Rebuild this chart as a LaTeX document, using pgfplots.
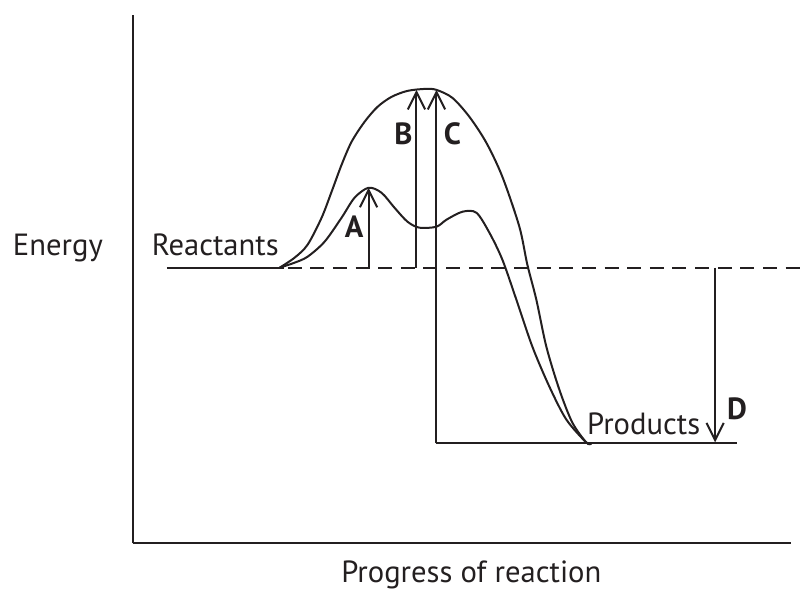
\documentclass[border=0pt]{standalone}
\usepackage{pgfplots}
\pgfplotsset{compat=1.18}
\usepackage{fontspec}
\setmainfont{PT Sans}
\usetikzlibrary{arrows.meta}
\definecolor{ink}{RGB}{35,31,32}
\tikzset{
  ln/.style={line width=1.5pt, draw=ink, mark=none},
  tip/.style={ln, -{Straight Barb[length=13pt,width=13pt,line width=1.5pt]}},
  lab/.style={anchor=base, inner sep=0pt, font=\fontsize{23}{27}\selectfont, text=ink},
  blab/.style={anchor=base, inner sep=0pt, font=\fontsize{23}{27}\selectfont\bfseries, text=ink},
}
\begin{document}
\begin{tikzpicture}
\begin{axis}[
  x=0.75pt, y=0.75pt,
  xmin=133, xmax=792, ymin=45, ymax=574,
  axis lines*=left,
  axis line style={line width=1.6pt, ink},
  ticks=none,
  clip=false,
]
\path (axis cs:0,0) rectangle (axis cs:802,589);
% uncatalysed (upper) curve
\addplot[ln, smooth] coordinates {
(280,321)(295,331)(308,344)(322,371)(332,397)(342,424)(352,447)(365,467)
(378,482)(392,492)(408,498)(426,500)(437,499)(453,491)(470,472)(487,446)
(503,412)(520,362)(528,324)(537,289)(547,242)(560,199)(573,166)(587,146)(592,145)};
% catalysed (lower) curve
\addplot[ln, smooth] coordinates {
(280,321)(295,326)(308,332)(325,347)(342,371)(355,391)(369,401)(382,396)
(395,381)(408,367)(420,361)(437,362)(447,369)(463,377)(477,376)(490,356)
(503,329)(517,289)(533,242)(550,202)(567,169)(587,146)(592,145)};
% reactant level
\addplot[ln] coordinates {(167,321)(284,321)};
\addplot[ln, dash pattern=on 10.5pt off 6.5pt] coordinates {(288,321)(802,321)};
% product level
\addplot[ln] coordinates {(437,145)(738,145)};
% arrows
\addplot[tip] coordinates {(369,321)(369,401)};
\addplot[tip] coordinates {(417,321)(417,499)};
\addplot[tip] coordinates {(437,145)(437,499)};
\addplot[tip] coordinates {(716,321)(716,146)};
% labels
\node[lab] at (axis cs:58,333) {Energy};
\node[lab] at (axis cs:215.5,333) {Reactants};
\node[lab] at (axis cs:644.5,154) {Products};
\node[lab] at (axis cs:472,6) {Progress of reaction};
\node[blab] at (axis cs:354.5,351) {A};
\node[blab] at (axis cs:404,444) {B};
\node[blab] at (axis cs:453,444) {C};
\node[blab] at (axis cs:738,169) {D};
\end{axis}
\end{tikzpicture}
\end{document}
